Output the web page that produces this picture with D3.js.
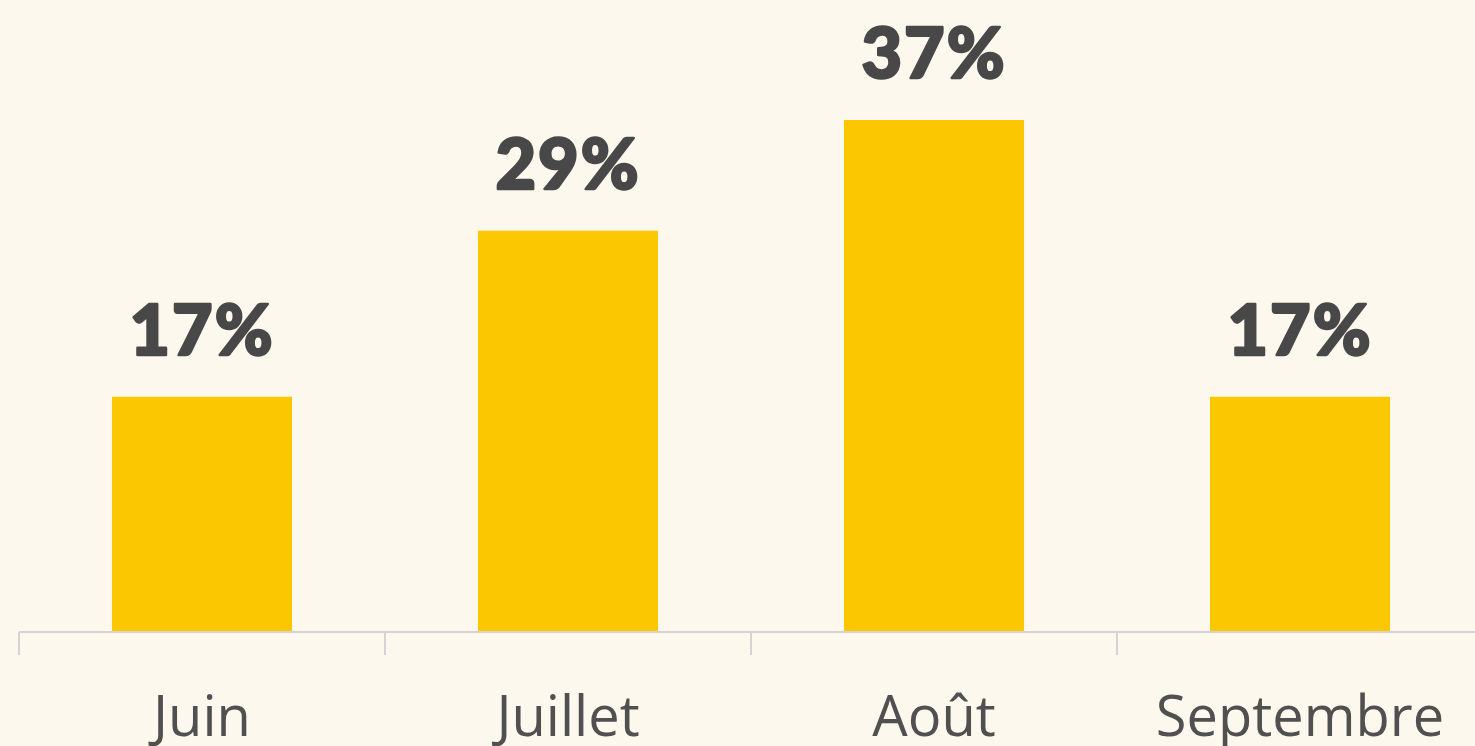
<!DOCTYPE html>
<html>
<head>
<meta charset="utf-8">
<script src="https://cdn.jsdelivr.net/npm/d3@7"></script>
<style>
  body { margin: 0; background: #fdf8ed; }
  .axis path, .axis line { stroke: #d6d4d2; stroke-width: 2; }
  .axis text { font-family: "Open Sans", sans-serif; font-size: 56px; fill: #505050; }
</style>
</head>
<body>
<div class="chart"></div>
<script>
// data
const months = ["Juin", "Juillet", "Août", "Septembre"]
const shares = [17, 29, 37, 17]

const width = 1475
const height = 746
const baseline = 632

const svg = d3.select(".chart")
  .append("svg")
  .attr("width", width)
  .attr("height", height)

svg.append("rect")
  .attr("width", width)
  .attr("height", height)
  .attr("fill", "#fdf8ed")

const xScale = d3.scaleBand()
  .domain(months)
  .range([19, 19 + 366 * 4])
  .paddingInner(0.508)
  .paddingOuter(0.254)

const yScale = d3.scaleLinear()
  .domain([0, 37])
  .range([baseline, 120])

// bars
svg.selectAll(".bar")
  .data(shares)
  .join("rect")
  .attr("class", "bar")
  .attr("x", (d, i) => xScale(months[i]))
  .attr("y", d => yScale(d))
  .attr("width", xScale.bandwidth())
  .attr("height", d => baseline - yScale(d))
  .attr("fill", "#fac700")

// value labels (stroke thickens the glyphs a bit, ref font is very heavy)
svg.selectAll(".val")
  .data(shares)
  .join("text")
  .attr("class", "val")
  .attr("x", (d, i) => xScale(months[i]) + xScale.bandwidth() / 2)
  .attr("y", d => yScale(d) - 42)
  .attr("text-anchor", "middle")
  .style("font-family", "Lato, sans-serif")
  .style("font-weight", 900)
  .style("font-size", "70px")
  .style("letter-spacing", "2px")
  .style("fill", "#484848")
  .style("stroke", "#484848")
  .style("stroke-width", 2.5)
  .style("stroke-linejoin", "round")
  .text(d => d + "%")

// x axis: ticks sit on the band edges, labels centred under bars
const edges = d3.range(months.length + 1).map(i => 19 + 366 * i)

const axis = svg.append("g").attr("class", "axis")

axis.append("path")
  .attr("d", `M${edges[0]},${baseline}H${edges[edges.length - 1]}`)

axis.selectAll("line")
  .data(edges)
  .join("line")
  .attr("x1", d => d).attr("x2", d => d)
  .attr("y1", baseline).attr("y2", baseline + 23)

axis.selectAll("text")
  .data(months)
  .join("text")
  .attr("x", d => xScale(d) + xScale.bandwidth() / 2)
  .attr("y", 736)
  .attr("text-anchor", "middle")
  .text(d => d)
</script>
</body>
</html>
